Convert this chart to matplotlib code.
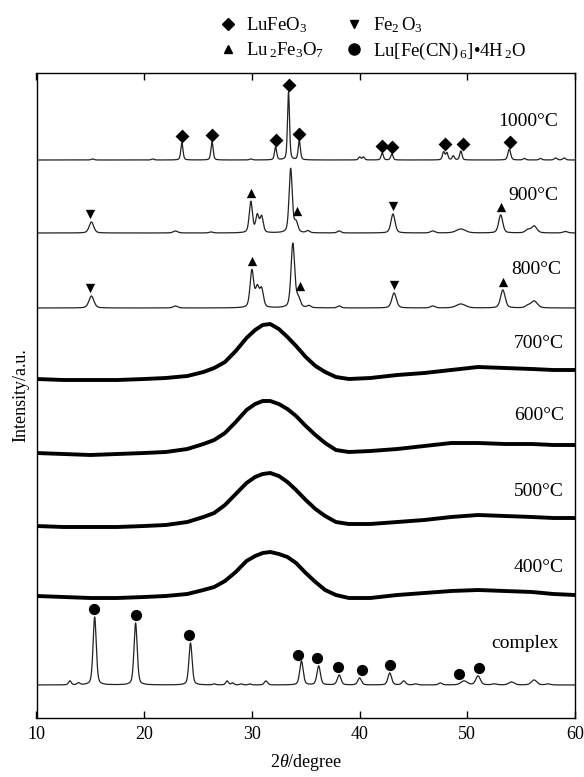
import numpy as np
import matplotlib
matplotlib.use("Agg")
import matplotlib.pyplot as plt
from matplotlib.lines import Line2D

plt.rcParams['font.family'] = ['Liberation Serif', 'DejaVu Serif']
plt.rcParams['mathtext.fontset'] = 'custom'
plt.rcParams['mathtext.rm'] = 'Liberation Serif'
plt.rcParams['mathtext.it'] = 'Liberation Serif:italic'

# ---------------- data ----------------
x_ticks = [10, 20, 30, 40, 50, 60]
sample_labels = ['1000°C', '900°C', '800°C', '700°C', '600°C', '500°C', '400°C', 'complex']

# crystalline patterns: peak position (deg), height (a.u.), FWHM (deg)
p1000_pos = [15.2, 20.8, 23.5, 26.3, 29.9, 32.2, 33.4, 34.4, 40.0, 40.35, 42.1, 43.0,
             47.8, 48.1, 48.7, 49.4, 53.9, 55.3, 56.8, 58.2, 59.0]
p1000_h = [1, 1, 17, 18, 1, 13, 68, 19, 3, 3, 7, 6, 8, 7, 4, 9, 11, 1.5, 1.5, 2, 2]
p1000_w = [0.3, 0.3, 0.24, 0.24, 0.3, 0.24, 0.22, 0.24, 0.25, 0.25, 0.25, 0.25,
           0.25, 0.25, 0.25, 0.25, 0.3, 0.3, 0.3, 0.3, 0.3]

p900_pos = [15.1, 22.9, 26.2, 29.9, 30.5, 30.9, 33.6, 34.1, 35.2, 38.1, 43.1, 46.8,
            49.4, 53.1, 55.6, 56.2, 59.1]
p900_h = [11, 2, 1, 31, 17, 16, 64, 10, 2, 2, 19, 2, 4, 18, 3, 7, 1.5]
p900_w = [0.5, 0.5, 0.4, 0.35, 0.35, 0.35, 0.35, 0.4, 0.4, 0.4, 0.45, 0.5,
          1.0, 0.45, 0.5, 0.6, 0.5]

p800_pos = [15.1, 22.9, 30.0, 30.5, 30.9, 33.8, 34.3, 35.3, 38.1, 43.2, 46.8, 49.4,
            53.3, 55.6, 56.2]
p800_h = [12, 2, 37, 19, 18, 64, 9, 2, 2, 15, 2, 4, 18, 2, 7]
p800_w = [0.55, 0.5, 0.4, 0.4, 0.4, 0.4, 0.45, 0.4, 0.4, 0.5, 0.5, 1.0,
          0.5, 0.5, 0.7]

pcx_pos = [13.1, 13.9, 15.4, 19.2, 24.3, 26.5, 27.7, 28.2, 29.0, 29.8, 31.3, 34.6,
           36.2, 38.1, 40.0, 42.8, 44.1, 45.2, 47.5, 49.7, 51.0, 52.5, 54.1, 56.2, 57.5]
pcx_h = [4, 2, 68, 62, 42, 1, 4, 2, 1, 1, 4, 24, 19, 10, 7, 12, 4, 1, 2, 4, 9, 1, 3, 5, 1]
pcx_w = [0.3, 0.3, 0.35, 0.35, 0.35, 0.3, 0.3, 0.3, 0.3, 0.3, 0.35, 0.38,
         0.38, 0.4, 0.4, 0.4, 0.4, 0.4, 0.4, 0.7, 0.5, 0.5, 0.6, 0.6, 0.5]

# amorphous patterns (relative intensity)
amor_x = [10, 12.5, 15, 17.5, 20, 22, 24, 25.5, 26.5, 27.5, 28.5, 29.5, 30.3, 31, 31.7,
          32.5, 33.3, 34.1, 35, 35.9, 36.8, 37.8, 39, 41, 43.5, 46, 48.5, 51, 53.5,
          56, 58, 60]
a700 = [0, -1, -1, -1, 0, 1, 3, 7, 11, 17, 28, 41, 49, 54, 55, 50, 42, 33, 22, 13, 7,
        2, 0, 1, 4, 6, 9, 12, 11, 10, 9, 9]
a600 = [0, -1, -2, -1, 0, 1, 4, 9, 13, 20, 31, 43, 49, 52, 52, 49, 44, 37, 27, 18, 10,
        3, 1, 2, 4, 7, 10, 10, 9, 9, 8, 8]
a500 = [0, -1, -1, -1, 0, 1, 4, 9, 13, 21, 32, 43, 49, 52, 53, 50, 44, 36, 26, 17, 10,
        4, 2, 2, 4, 6, 9, 11, 10, 9, 8, 8]
a400 = [1, 0, -1, -1, 0, 1, 3, 7, 10, 16, 25, 36, 41, 44, 45, 43, 40, 34, 24, 15, 7,
        2, -1, -1, 2, 4, 6, 7, 6, 5, 3, 2]

# phase markers (2theta positions)
m1000_diamond = [23.5, 26.3, 32.2, 33.4, 34.4, 42.1, 43.0, 47.9, 49.6, 54.0]
m900_down = [15.0, 43.1]
m900_up = [29.9, 34.2, 53.1]
m800_down = [15.0, 43.2]
m800_up = [30.0, 34.5, 53.3]
mcx_circle = [15.3, 19.2, 24.2, 34.3, 36.0, 38.0, 40.2, 42.8, 49.2, 51.1]

legend_labels = ['LuFeO$_3$', 'Lu$\\,_2$Fe$_3$O$_7$', 'Fe$_2\\,$O$_3$',
                 'Lu[Fe(CN)$\\,_6$]•4H$\\,_2$O']

# ---------------- layout ----------------
offsets = {'1000°C': 558, '900°C': 485, '800°C': 410, '700°C': 339,
           '600°C': 265, '500°C': 192, '400°C': 121, 'complex': 33}
label_dy = {'1000°C': 39, '900°C': 38, '800°C': 39, '700°C': 36,
            '600°C': 38, '500°C': 34, '400°C': 30, 'complex': 42}
label_x = {'1000°C': 58.4, '900°C': 58.5, '800°C': 58.7, '700°C': 59.0,
           '600°C': 59.0, '500°C': 59.0, '400°C': 58.9, 'complex': 58.5}

W, H = 584, 777
fig = plt.figure(figsize=(W / 100, H / 100), dpi=100)
ax = fig.add_axes([36.5 / W, (H - 718) / H, (575 - 36.5) / W, (718 - 73) / H])

grid = np.linspace(10, 60, 6001)


def profile(pos, h, w):
    y = np.zeros_like(grid)
    for p, a, f in zip(pos, h, w):
        g = np.exp(-4 * np.log(2) * ((grid - p) / f) ** 2)
        l = 1 / (1 + 4 * ((grid - p) / f) ** 2)
        y += a * (0.6 * g + 0.4 * l)
    return y


line_c = '#222222'
cryst = {'1000°C': (p1000_pos, p1000_h, p1000_w),
         '900°C': (p900_pos, p900_h, p900_w),
         '800°C': (p800_pos, p800_h, p800_w),
         'complex': (pcx_pos, pcx_h, pcx_w)}
curves = {}
for name, (pp, hh, ww) in cryst.items():
    y = offsets[name] + profile(pp, hh, ww)
    curves[name] = y
    ax.plot(grid, y, color=line_c, lw=0.9)

amor = {'700°C': a700, '600°C': a600, '500°C': a500, '400°C': a400}
for name, vals in amor.items():
    ax.plot(amor_x, np.array(vals) + offsets[name], color='black', lw=2.8,
            solid_joinstyle='round')


def mark(name, xs, marker, size, dy):
    ys = []
    for xv in xs:
        sel = (grid > xv - 0.25) & (grid < xv + 0.25)
        ys.append(curves[name][sel].max() + dy)
    ax.scatter(xs, ys, marker=marker, s=size, color='black', zorder=5, linewidths=0)


mark('1000°C', m1000_diamond, 'D', 50, 7)
mark('900°C', m900_down, 'v', 45, 8)
mark('900°C', m900_up, '^', 45, 8)
mark('800°C', m800_down, 'v', 45, 8)
mark('800°C', m800_up, '^', 45, 8)
mark('complex', mcx_circle, 'o', 65, 8)

for name in sample_labels:
    ax.text(label_x[name], offsets[name] + label_dy[name], name, ha='right', va='center',
            fontsize=14)

ax.set_xlim(10, 60)
ax.set_ylim(0, 645)
ax.set_xticks(x_ticks)
ax.set_yticks([])
ax.tick_params(axis='x', direction='in', length=5, width=1, top=True,
               labelsize=13, pad=6, labeltop=False)
for s in ax.spines.values():
    s.set_linewidth(1.0)
ax.set_xlabel('2$\\it{\\theta}$/degree', fontsize=13, labelpad=6)
ax.set_ylabel('Intensity/a.u.', fontsize=13, labelpad=5)

handles = [Line2D([], [], ls='', marker='D', color='black', markersize=6),
           Line2D([], [], ls='', marker='^', color='black', markersize=6),
           Line2D([], [], ls='', marker='v', color='black', markersize=6),
           Line2D([], [], ls='', marker='o', color='black', markersize=8)]
fig.legend(handles, legend_labels, ncol=2, frameon=False, fontsize=13.5, loc='upper left',
           bbox_to_anchor=(207 / W, 1 - 2 / H), handlelength=0.8, handletextpad=0.6,
           columnspacing=1.2, labelspacing=0.3, borderpad=0.2)

fig.savefig('out.png', dpi=100)
